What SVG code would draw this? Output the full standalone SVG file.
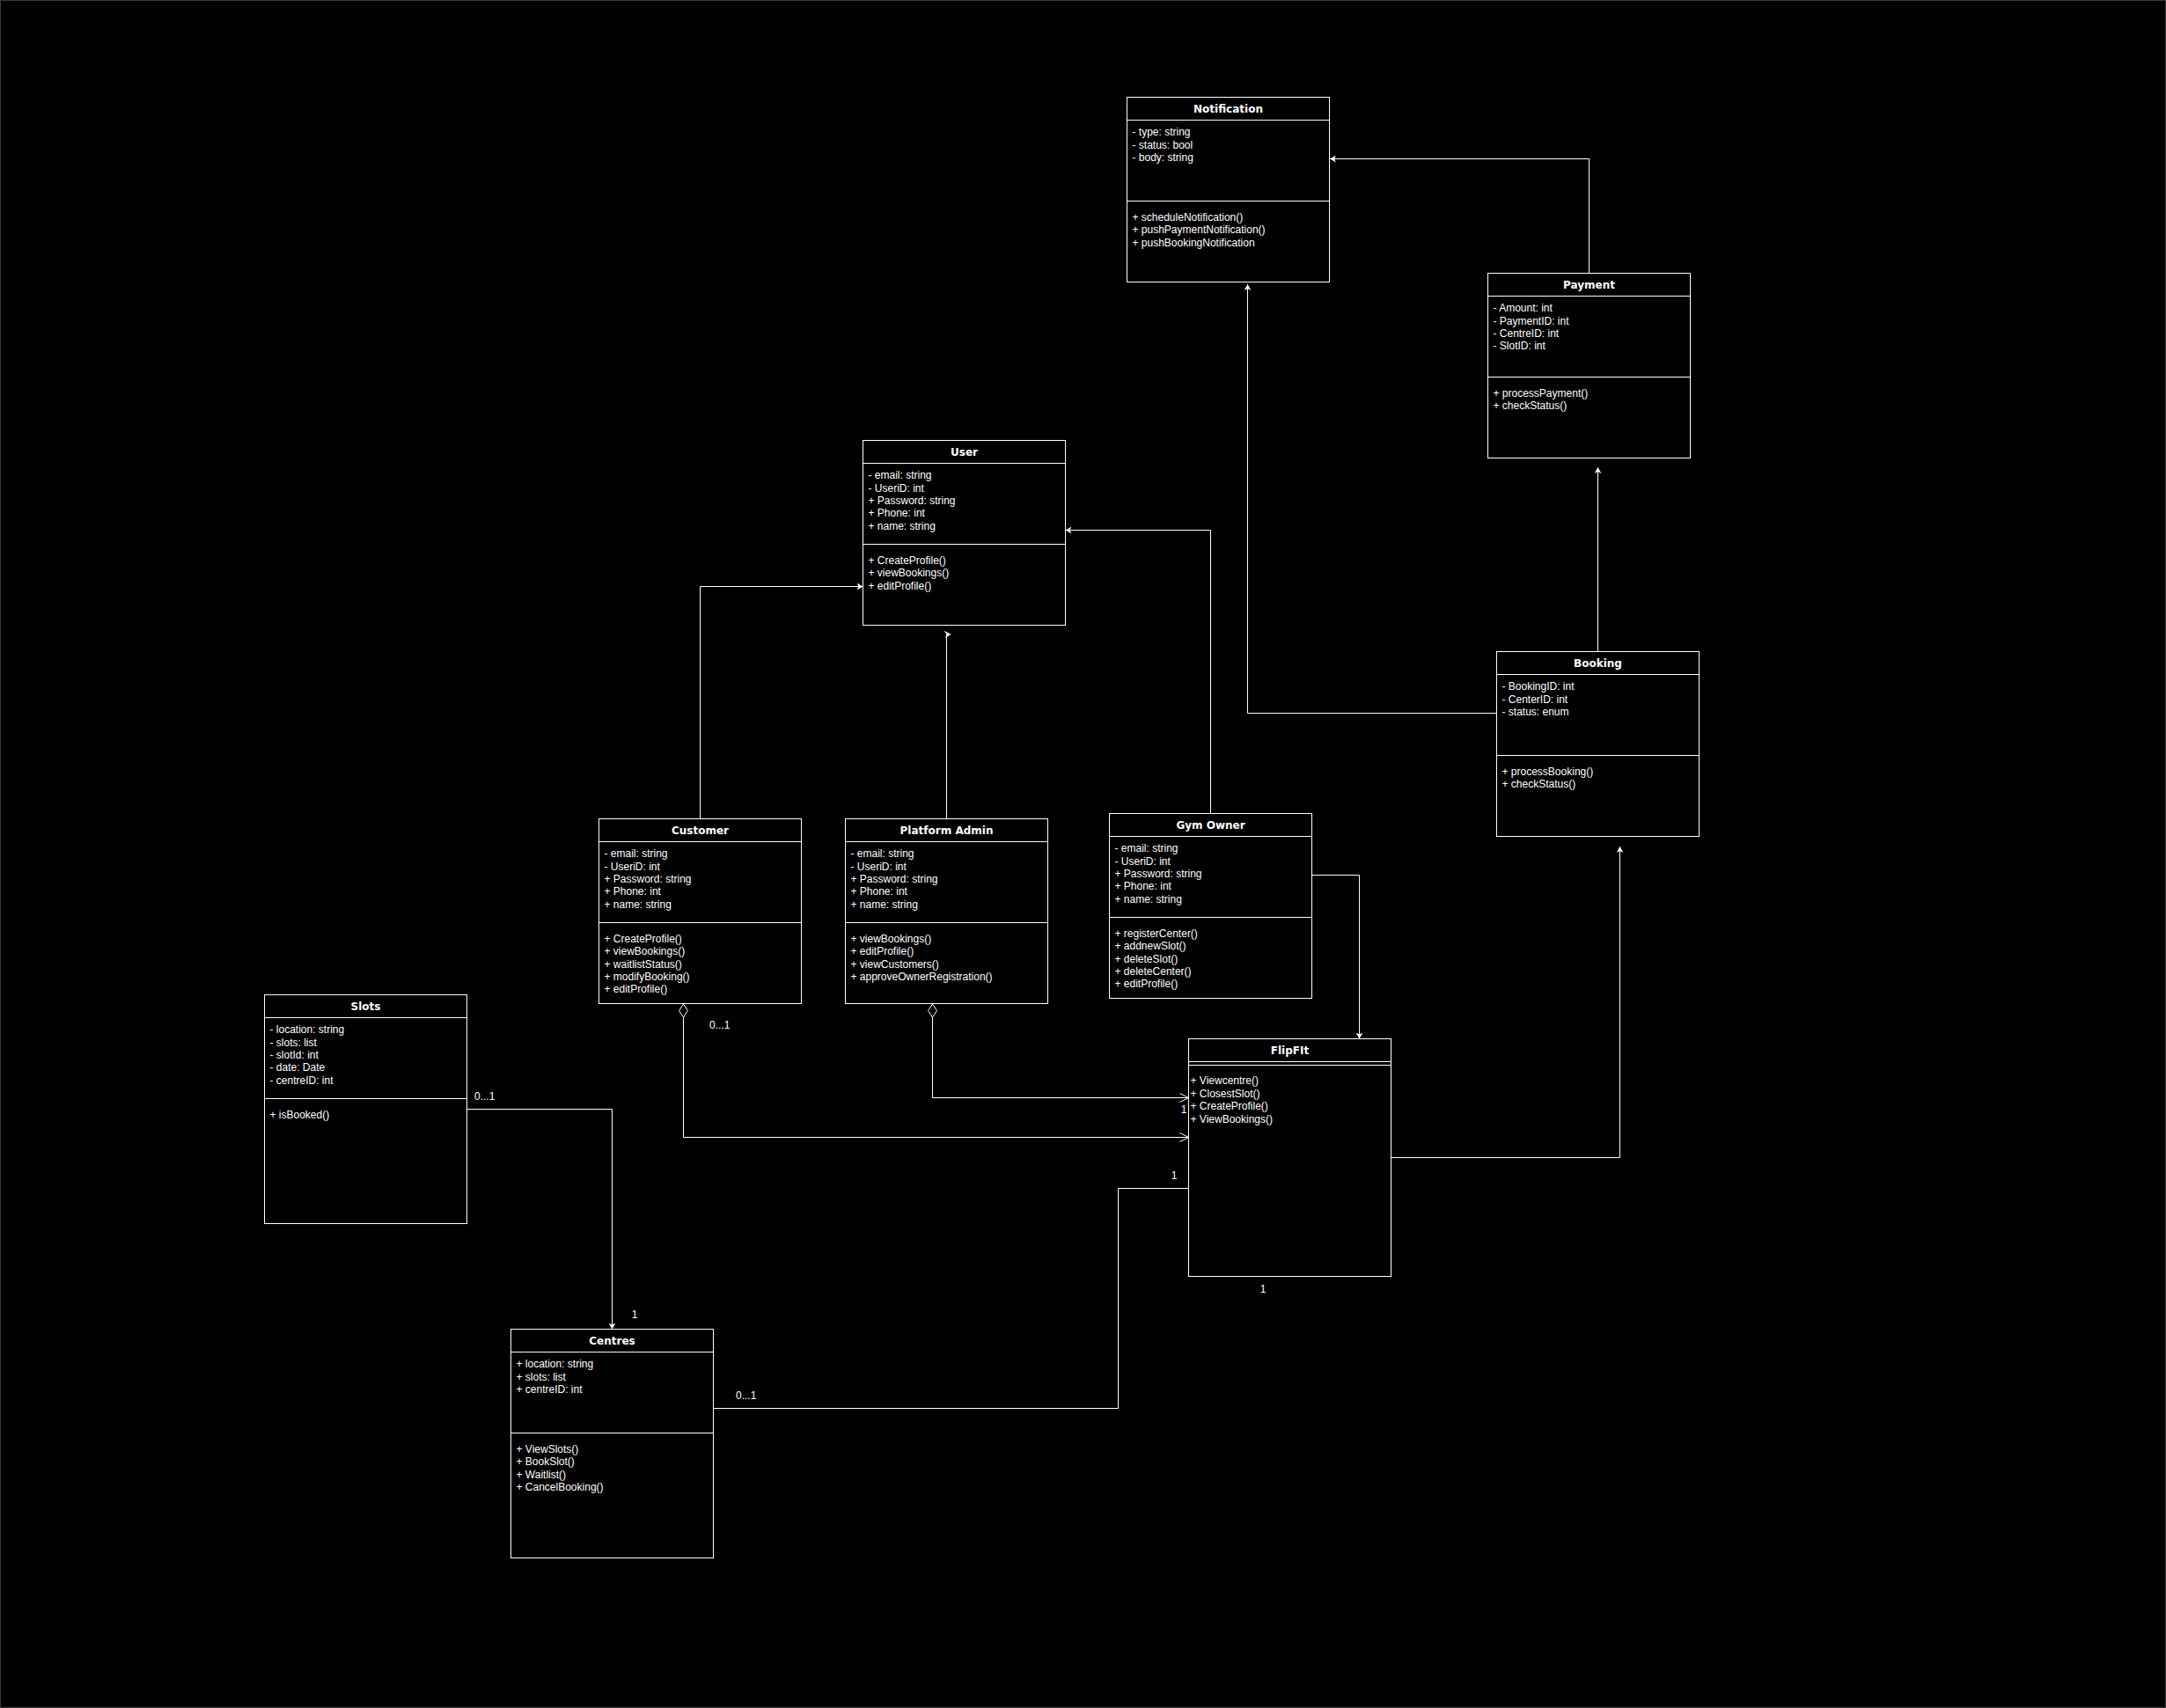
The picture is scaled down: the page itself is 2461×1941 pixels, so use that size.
<svg xmlns="http://www.w3.org/2000/svg" width="2461" height="1941" viewBox="0 0 2461 1941">
<style>
.box{fill:#000;stroke:#fff;stroke-width:1}
.ln{stroke:#fff;stroke-width:1;fill:none}
.t{font-family:"DejaVu Sans",sans-serif;font-weight:bold;font-size:12px;fill:#fff;text-anchor:middle}
.a{font-family:"Liberation Sans",Arial,sans-serif;font-size:12px;fill:#fff}
.lb{font-family:"Liberation Sans",Arial,sans-serif;font-size:12px;fill:#fff}
.c{text-anchor:middle}
.edge{stroke:#fff;stroke-width:1;fill:none}
</style>
<defs>
<marker id="arr" viewBox="0 0 7 8" refX="7" refY="4" markerWidth="7" markerHeight="8" markerUnits="userSpaceOnUse" orient="auto">
<path d="M0,0 L7,4 L0,8 L2,4 Z" fill="#fff"/>
</marker>
<marker id="open" viewBox="0 0 11 11" refX="10.5" refY="5.5" markerWidth="11" markerHeight="11" markerUnits="userSpaceOnUse" orient="auto" overflow="visible">
<path d="M0.5,0.5 L10.5,5.5 L0.5,10.5" fill="none" stroke="#fff" stroke-width="1"/>
</marker>
</defs>
<rect x="0" y="0" width="2461" height="1941" fill="#000"/>
<rect x="0.5" y="0.5" width="2460" height="1940" fill="none" stroke="#3a3a3a" stroke-width="1"/>

<g id="connectors">
<path class="edge" d="M1805.5,310.5 V180.5 H1511" marker-end="url(#arr)"/>
<path class="edge" d="M1700.5,810.5 H1417.5 V323" marker-end="url(#arr)"/>
<path class="edge" d="M1815.5,740.5 V531" marker-end="url(#arr)"/>
<path class="edge" d="M1580.5,1315.5 H1840.5 V962" marker-end="url(#arr)"/>
<path class="edge" d="M795.5,930.5 V666.5 H980.5" marker-end="url(#arr)"/>
<path class="edge" d="M1075.5,930.5 V721"/>
<polygon points="1072,716.5 1080.5,720.7 1074,725 1075.7,720.7" fill="#fff"/>
<path class="edge" d="M1375.5,924.5 V602.5 H1210.5" marker-end="url(#arr)"/>
<path class="edge" d="M1490.5,994.5 H1544.5 V1180.5" marker-end="url(#arr)"/>
<path class="edge" d="M776.5,1156 V1292.5 H1350.5" marker-end="url(#open)"/>
<polygon points="776.5,1141 781.5,1148.5 776.5,1156 771.5,1148.5" fill="#000" stroke="#fff" stroke-width="1"/>
<path class="edge" d="M1059.5,1156 V1247.5 H1350.5" marker-end="url(#open)"/>
<polygon points="1059.5,1141 1064.5,1148.5 1059.5,1156 1054.5,1148.5" fill="#000" stroke="#fff" stroke-width="1"/>
<path class="edge" d="M530.5,1260.5 H695.5 V1510.5" marker-end="url(#arr)"/>
<path class="edge" d="M810.5,1600.5 H1270.5 V1350.5 H1350.5"/>
<text class="lb" x="806" y="1169">0...1</text>
<text class="lb c" x="1067" y="1137">1</text>
<text class="lb c" x="1345" y="1265">1</text>
<text class="lb" x="539" y="1249.5">0...1</text>
<text class="lb c" x="721" y="1497.5">1</text>
<text class="lb" x="836" y="1589.5">0...1</text>
<text class="lb c" x="1334" y="1340">1</text>
<text class="lb c" x="1435" y="1468.5">1</text>
</g>

<g id="notification">
<rect class="box" x="1280.5" y="110.5" width="230" height="210"/>
<path class="ln" d="M1280.5,136.5 H1510.5 M1280.5,228.5 H1510.5"/>
<text class="t" x="1395.5" y="128">Notification</text>
<text class="a" x="1286.5" y="154.2">- type: string</text>
<text class="a" x="1286.5" y="168.6">- status: bool</text>
<text class="a" x="1286.5" y="183">- body: string</text>
<text class="a" x="1286.5" y="250.8">+ scheduleNotification()</text>
<text class="a" x="1286.5" y="265.2">+ pushPaymentNotification()</text>
<text class="a" x="1286.5" y="279.6">+ pushBookingNotification</text>
</g>

<g id="payment">
<rect class="box" x="1690.5" y="310.5" width="230" height="210"/>
<path class="ln" d="M1690.5,336.5 H1920.5 M1690.5,428.5 H1920.5"/>
<text class="t" x="1805.5" y="328">Payment</text>
<text class="a" x="1696.5" y="354.2">- Amount: int</text>
<text class="a" x="1696.5" y="368.6">- PaymentID: int</text>
<text class="a" x="1696.5" y="383">- CentreID: int</text>
<text class="a" x="1696.5" y="397.4">- SlotID: int</text>
<text class="a" x="1696.5" y="450.8">+ processPayment()</text>
<text class="a" x="1696.5" y="465.2">+ checkStatus()</text>
</g>

<g id="user">
<rect class="box" x="980.5" y="500.5" width="230" height="210"/>
<path class="ln" d="M980.5,526.5 H1210.5 M980.5,618.5 H1210.5"/>
<text class="t" x="1095.5" y="518">User</text>
<text class="a" x="986.5" y="544.2">- email: string</text>
<text class="a" x="986.5" y="558.6">- UseriD: int</text>
<text class="a" x="986.5" y="573">+ Password: string</text>
<text class="a" x="986.5" y="587.4">+ Phone: int</text>
<text class="a" x="986.5" y="601.8">+ name: string</text>
<text class="a" x="986.5" y="640.8">+ CreateProfile()</text>
<text class="a" x="986.5" y="655.2">+ viewBookings()</text>
<text class="a" x="986.5" y="669.6">+ editProfile()</text>
</g>

<g id="customer">
<rect class="box" x="680.5" y="930.5" width="230" height="210"/>
<path class="ln" d="M680.5,956.5 H910.5 M680.5,1048.5 H910.5"/>
<text class="t" x="795.5" y="948">Customer</text>
<text class="a" x="686.5" y="974.2">- email: string</text>
<text class="a" x="686.5" y="988.6">- UseriD: int</text>
<text class="a" x="686.5" y="1003">+ Password: string</text>
<text class="a" x="686.5" y="1017.4">+ Phone: int</text>
<text class="a" x="686.5" y="1031.8">+ name: string</text>
<text class="a" x="686.5" y="1070.8">+ CreateProfile()</text>
<text class="a" x="686.5" y="1085.2">+ viewBookings()</text>
<text class="a" x="686.5" y="1099.6">+ waitlistStatus()</text>
<text class="a" x="686.5" y="1114">+ modifyBooking()</text>
<text class="a" x="686.5" y="1128.4">+ editProfile()</text>
</g>

<g id="platform-admin">
<rect class="box" x="960.5" y="930.5" width="230" height="210"/>
<path class="ln" d="M960.5,956.5 H1190.5 M960.5,1048.5 H1190.5"/>
<text class="t" x="1075.5" y="948">Platform Admin</text>
<text class="a" x="966.5" y="974.2">- email: string</text>
<text class="a" x="966.5" y="988.6">- UseriD: int</text>
<text class="a" x="966.5" y="1003">+ Password: string</text>
<text class="a" x="966.5" y="1017.4">+ Phone: int</text>
<text class="a" x="966.5" y="1031.8">+ name: string</text>
<text class="a" x="966.5" y="1070.8">+ viewBookings()</text>
<text class="a" x="966.5" y="1085.2">+ editProfile()</text>
<text class="a" x="966.5" y="1099.6">+ viewCustomers()</text>
<text class="a" x="966.5" y="1114">+ approveOwnerRegistration()</text>
</g>

<g id="gym-owner">
<rect class="box" x="1260.5" y="924.5" width="230" height="210"/>
<path class="ln" d="M1260.5,950.5 H1490.5 M1260.5,1042.5 H1490.5"/>
<text class="t" x="1375.5" y="942">Gym Owner</text>
<text class="a" x="1266.5" y="968.2">- email: string</text>
<text class="a" x="1266.5" y="982.6">- UseriD: int</text>
<text class="a" x="1266.5" y="997">+ Password: string</text>
<text class="a" x="1266.5" y="1011.4">+ Phone: int</text>
<text class="a" x="1266.5" y="1025.8">+ name: string</text>
<text class="a" x="1266.5" y="1064.8">+ registerCenter()</text>
<text class="a" x="1266.5" y="1079.2">+ addnewSlot()</text>
<text class="a" x="1266.5" y="1093.6">+ deleteSlot()</text>
<text class="a" x="1266.5" y="1108">+ deleteCenter()</text>
<text class="a" x="1266.5" y="1122.4">+ editProfile()</text>
</g>

<g id="booking">
<rect class="box" x="1700.5" y="740.5" width="230" height="210"/>
<path class="ln" d="M1700.5,766.5 H1930.5 M1700.5,858.5 H1930.5"/>
<text class="t" x="1815.5" y="758">Booking</text>
<text class="a" x="1706.5" y="784.2">- BookingID: int</text>
<text class="a" x="1706.5" y="798.6">- CenterID: int</text>
<text class="a" x="1706.5" y="813">- status: enum</text>
<text class="a" x="1706.5" y="880.8">+ processBooking()</text>
<text class="a" x="1706.5" y="895.2">+ checkStatus()</text>
</g>

<g id="slots">
<rect class="box" x="300.5" y="1130.5" width="230" height="260"/>
<path class="ln" d="M300.5,1156.5 H530.5 M300.5,1248.5 H530.5"/>
<text class="t" x="415.5" y="1148">Slots</text>
<text class="a" x="306.5" y="1174.2">- location: string</text>
<text class="a" x="306.5" y="1188.6">- slots: list</text>
<text class="a" x="306.5" y="1203">- slotId: int</text>
<text class="a" x="306.5" y="1217.4">- date: Date</text>
<text class="a" x="306.5" y="1231.8">- centreID: int</text>
<text class="a" x="306.5" y="1270.8">+ isBooked()</text>
</g>

<g id="flipfit">
<rect class="box" x="1350.5" y="1180.5" width="230" height="270"/>
<path class="ln" d="M1350.5,1206.5 H1580.5 M1350.5,1210.5 H1580.5"/>
<text class="t" x="1465.5" y="1198">FlipFIt</text>
<text class="a" x="1352.5" y="1232.3">+ Viewcentre()</text>
<text class="a" x="1352.5" y="1246.7">+ ClosestSlot()</text>
<text class="a" x="1352.5" y="1261.1">+ CreateProfile()</text>
<text class="a" x="1352.5" y="1275.5">+ ViewBookings()</text>
</g>

<g id="centres">
<rect class="box" x="580.5" y="1510.5" width="230" height="260"/>
<path class="ln" d="M580.5,1536.5 H810.5 M580.5,1628.5 H810.5"/>
<text class="t" x="695.5" y="1528">Centres</text>
<text class="a" x="586.5" y="1554.2">+ location: string</text>
<text class="a" x="586.5" y="1568.6">+ slots: list</text>
<text class="a" x="586.5" y="1583">+ centreID: int</text>
<text class="a" x="586.5" y="1650.8">+ ViewSlots()</text>
<text class="a" x="586.5" y="1665.2">+ BookSlot()</text>
<text class="a" x="586.5" y="1679.6">+ Waitlist()</text>
<text class="a" x="586.5" y="1694">+ CancelBooking()</text>
</g>
</svg>
